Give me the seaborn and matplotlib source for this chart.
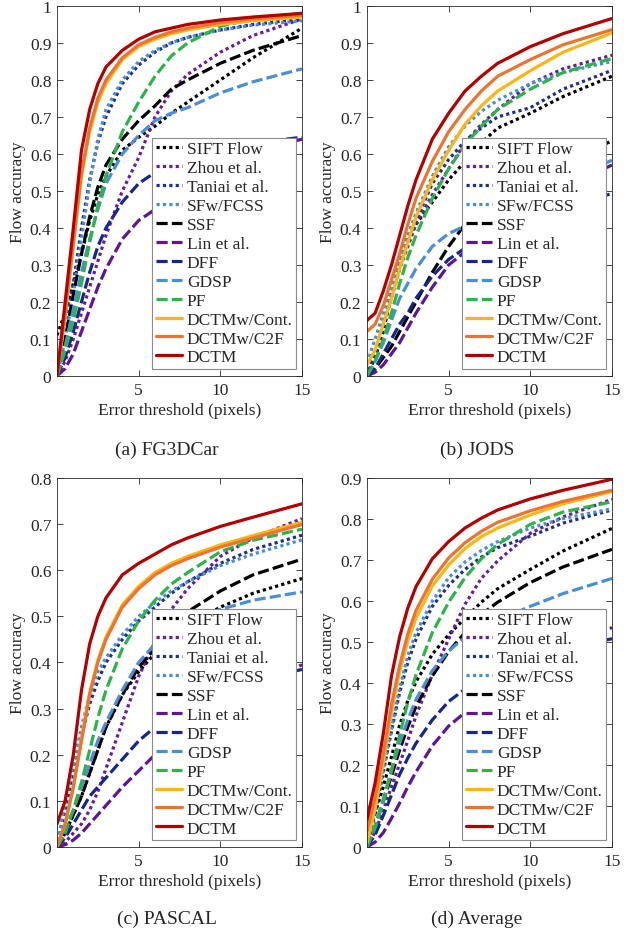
import numpy as np
import matplotlib
matplotlib.use("Agg")
import matplotlib.pyplot as plt
import seaborn as sns

thresholds = [0, 0.5, 1, 1.5, 2, 2.5, 3, 4, 5, 6, 7, 8, 10, 12, 15]

methods = ["SIFT Flow", "Zhou et al.", "Taniai et al.", "SFw/FCSS", "SSF", "Lin et al.",
           "DFF", "GDSP", "PF", "DCTMw/Cont.", "DCTMw/C2F", "DCTM"]

# rows follow the order of `methods`
fg3dcar_acc = [
    [0.11, 0.17, 0.25, 0.33, 0.42, 0.49, 0.54, 0.61, 0.645, 0.675, 0.71, 0.74, 0.80, 0.86, 0.94],
    [0, 0.04, 0.10, 0.17, 0.24, 0.31, 0.38, 0.50, 0.59, 0.70, 0.77, 0.815, 0.875, 0.92, 0.965],
    [0, 0.11, 0.25, 0.40, 0.53, 0.63, 0.70, 0.79, 0.84, 0.875, 0.90, 0.915, 0.935, 0.95, 0.965],
    [0, 0.10, 0.22, 0.37, 0.52, 0.64, 0.72, 0.80, 0.85, 0.88, 0.90, 0.915, 0.935, 0.948, 0.96],
    [0, 0.10, 0.22, 0.33, 0.43, 0.51, 0.57, 0.64, 0.69, 0.73, 0.775, 0.80, 0.845, 0.88, 0.92],
    [0, 0.02, 0.06, 0.12, 0.18, 0.24, 0.29, 0.37, 0.42, 0.45, 0.49, 0.52, 0.57, 0.605, 0.64],
    [0, 0.05, 0.12, 0.20, 0.28, 0.35, 0.40, 0.47, 0.52, 0.55, 0.575, 0.59, 0.615, 0.63, 0.645],
    [0, 0.08, 0.18, 0.28, 0.37, 0.45, 0.52, 0.60, 0.65, 0.69, 0.71, 0.725, 0.765, 0.795, 0.83],
    [0, 0.07, 0.15, 0.25, 0.36, 0.46, 0.54, 0.66, 0.74, 0.81, 0.865, 0.90, 0.945, 0.965, 0.98],
    [0, 0.16, 0.35, 0.54, 0.66, 0.74, 0.79, 0.855, 0.89, 0.91, 0.925, 0.935, 0.95, 0.96, 0.97],
    [0, 0.17, 0.36, 0.55, 0.67, 0.75, 0.80, 0.86, 0.895, 0.915, 0.93, 0.94, 0.955, 0.965, 0.975],
    [0, 0.20, 0.40, 0.61, 0.72, 0.79, 0.835, 0.88, 0.91, 0.93, 0.94, 0.95, 0.962, 0.97, 0.98],
]

jods_acc = [
    [0, 0.05, 0.12, 0.22, 0.31, 0.37, 0.41, 0.47, 0.53, 0.58, 0.63, 0.67, 0.71, 0.755, 0.81],
    [0, 0.06, 0.14, 0.22, 0.29, 0.35, 0.41, 0.49, 0.56, 0.63, 0.68, 0.72, 0.79, 0.83, 0.867],
    [0, 0.06, 0.14, 0.21, 0.29, 0.36, 0.42, 0.52, 0.585, 0.635, 0.67, 0.70, 0.725, 0.775, 0.826],
    [0.035, 0.10, 0.17, 0.24, 0.31, 0.38, 0.44, 0.54, 0.62, 0.675, 0.715, 0.745, 0.79, 0.82, 0.85],
    [0, 0.02, 0.05, 0.08, 0.12, 0.16, 0.20, 0.28, 0.35, 0.41, 0.45, 0.48, 0.535, 0.58, 0.635],
    [0, 0.01, 0.03, 0.06, 0.09, 0.13, 0.17, 0.24, 0.30, 0.335, 0.37, 0.40, 0.455, 0.51, 0.57],
    [0, 0.02, 0.06, 0.10, 0.14, 0.17, 0.21, 0.27, 0.315, 0.345, 0.37, 0.39, 0.425, 0.455, 0.493],
    [0, 0.04, 0.09, 0.15, 0.21, 0.25, 0.29, 0.35, 0.385, 0.405, 0.42, 0.44, 0.48, 0.525, 0.583],
    [0, 0.04, 0.10, 0.17, 0.25, 0.32, 0.38, 0.48, 0.56, 0.625, 0.675, 0.72, 0.775, 0.82, 0.858],
    [0.03, 0.07, 0.14, 0.21, 0.29, 0.36, 0.43, 0.53, 0.61, 0.68, 0.73, 0.77, 0.825, 0.875, 0.927],
    [0.12, 0.14, 0.19, 0.26, 0.33, 0.41, 0.48, 0.58, 0.66, 0.72, 0.77, 0.81, 0.855, 0.895, 0.936],
    [0.15, 0.17, 0.23, 0.30, 0.38, 0.46, 0.53, 0.64, 0.71, 0.77, 0.81, 0.845, 0.89, 0.925, 0.966],
]

pascal_acc = [
    [0, 0.03, 0.07, 0.11, 0.16, 0.21, 0.26, 0.33, 0.38, 0.42, 0.45, 0.48, 0.52, 0.55, 0.582],
    [0, 0.01, 0.03, 0.05, 0.08, 0.12, 0.17, 0.27, 0.37, 0.445, 0.515, 0.56, 0.63, 0.67, 0.712],
    [0, 0.08, 0.16, 0.24, 0.31, 0.36, 0.40, 0.45, 0.49, 0.52, 0.55, 0.575, 0.615, 0.645, 0.676],
    [0, 0.10, 0.18, 0.26, 0.33, 0.38, 0.41, 0.46, 0.50, 0.53, 0.555, 0.575, 0.61, 0.635, 0.666],
    [0, 0.03, 0.07, 0.11, 0.16, 0.21, 0.26, 0.33, 0.39, 0.43, 0.475, 0.51, 0.555, 0.59, 0.624],
    [0, 0.005, 0.015, 0.03, 0.05, 0.07, 0.09, 0.13, 0.165, 0.20, 0.23, 0.26, 0.31, 0.35, 0.395],
    [0, 0.02, 0.05, 0.08, 0.11, 0.13, 0.15, 0.19, 0.23, 0.26, 0.285, 0.305, 0.335, 0.36, 0.385],
    [0, 0.04, 0.08, 0.13, 0.18, 0.23, 0.27, 0.34, 0.40, 0.44, 0.47, 0.49, 0.515, 0.535, 0.553],
    [0, 0.03, 0.08, 0.14, 0.21, 0.28, 0.34, 0.43, 0.49, 0.535, 0.57, 0.595, 0.64, 0.665, 0.689],
    [0, 0.05, 0.13, 0.235, 0.335, 0.405, 0.455, 0.525, 0.565, 0.595, 0.615, 0.63, 0.655, 0.675, 0.704],
    [0, 0.05, 0.13, 0.23, 0.33, 0.40, 0.45, 0.52, 0.56, 0.59, 0.61, 0.625, 0.65, 0.67, 0.699],
    [0.05, 0.10, 0.20, 0.34, 0.44, 0.50, 0.54, 0.59, 0.615, 0.635, 0.655, 0.67, 0.695, 0.715, 0.744],
]

average_acc = [
    [0.037, 0.083, 0.147, 0.22, 0.297, 0.357, 0.403, 0.47, 0.518, 0.558, 0.597, 0.63, 0.677, 0.722, 0.777],
    [0, 0.037, 0.09, 0.147, 0.203, 0.26, 0.32, 0.42, 0.507, 0.592, 0.655, 0.698, 0.765, 0.805, 0.848],
    [0, 0.083, 0.183, 0.283, 0.377, 0.45, 0.507, 0.587, 0.638, 0.677, 0.707, 0.73, 0.758, 0.79, 0.822],
    [0.012, 0.10, 0.19, 0.29, 0.387, 0.467, 0.523, 0.60, 0.657, 0.695, 0.723, 0.745, 0.778, 0.801, 0.825],
    [0, 0.05, 0.113, 0.173, 0.237, 0.293, 0.343, 0.417, 0.477, 0.523, 0.567, 0.597, 0.645, 0.683, 0.726],
    [0, 0.012, 0.035, 0.07, 0.107, 0.147, 0.183, 0.247, 0.295, 0.328, 0.363, 0.393, 0.445, 0.488, 0.535],
    [0, 0.03, 0.077, 0.127, 0.177, 0.217, 0.253, 0.31, 0.355, 0.385, 0.41, 0.428, 0.458, 0.482, 0.508],
    [0, 0.053, 0.117, 0.187, 0.253, 0.31, 0.36, 0.43, 0.478, 0.512, 0.533, 0.552, 0.587, 0.618, 0.655],
    [0, 0.047, 0.11, 0.187, 0.273, 0.353, 0.42, 0.523, 0.597, 0.657, 0.703, 0.738, 0.787, 0.817, 0.842],
    [0.01, 0.093, 0.207, 0.328, 0.428, 0.502, 0.558, 0.637, 0.688, 0.728, 0.757, 0.778, 0.81, 0.837, 0.867],
    [0.04, 0.12, 0.227, 0.347, 0.443, 0.52, 0.577, 0.653, 0.705, 0.742, 0.77, 0.792, 0.82, 0.843, 0.87],
    [0.067, 0.157, 0.277, 0.417, 0.513, 0.583, 0.635, 0.703, 0.745, 0.778, 0.802, 0.822, 0.849, 0.87, 0.897],
]

# line styles per method
dot = (0, (1, 1))
dash = (0, (3.5, 1.3))
colors = ["black", "#6a1b9a", "#1f2f8c", "#4a8fd6", "black", "#5e1596",
          "#15288a", "#4a8fd6", "#2db34a", "#fdb515", "#ec7431", "#b30000"]
styles = [dot, dot, dot, dot, dash, dash, dash, dash, dash, "-", "-", "-"]

sns.set_style("ticks")
plt.rcParams["font.family"] = ["Liberation Serif", "DejaVu Serif"]
edge = "#262626"

fig = plt.figure(figsize=(6.31, 9.37), dpi=100)

panels = [
    (fg3dcar_acc, "(a) FG3DCar", 1.0, [0.0903, 0.5977, 0.3883, 0.3949], (0.265, 0.510)),
    (jods_acc, "(b) JODS", 1.0, [0.5816, 0.5977, 0.3883, 0.3949], (0.756, 0.510)),
    (pascal_acc, "(c) PASCAL", 0.8, [0.0903, 0.0950, 0.3883, 0.3938], (0.265, 0.010)),
    (average_acc, "(d) Average", 0.9, [0.5816, 0.0950, 0.3883, 0.3938], (0.756, 0.010)),
]

for acc, caption, ymax, rect, cap_xy in panels:
    ax = fig.add_axes(rect)
    for i, name in enumerate(methods):
        sns.lineplot(x=thresholds, y=acc[i], ax=ax, color=colors[i], linestyle=styles[i],
                     linewidth=2.3, label=name)
    ax.set_xlim(0, 15)
    ax.set_ylim(0, ymax)
    ax.set_xticks([5, 10, 15])
    yt = np.round(np.arange(0, ymax + 0.001, 0.1), 1)
    ax.set_yticks(yt)
    ax.set_yticklabels([f"{v:g}" for v in yt])
    ax.tick_params(direction="in", top=True, right=True, length=4, width=0.6,
                   labelsize=12.5, colors=edge, labelcolor=edge, pad=4)
    for sp in ax.spines.values():
        sp.set_visible(True)
        sp.set_linewidth(0.6)
        sp.set_color(edge)
    ax.set_xlabel("Error threshold (pixels)", fontsize=12.5, color=edge, labelpad=3)
    ax.set_ylabel("Flow accuracy", fontsize=12.5, color=edge, labelpad=3)
    leg = ax.legend(loc="lower right", bbox_to_anchor=(0.976, 0.019), fontsize=12.5,
                    frameon=True, fancybox=False, edgecolor="#8c8c8c", framealpha=1,
                    borderpad=0.2, labelspacing=0.16, handlelength=1.5,
                    handletextpad=0.3, borderaxespad=0)
    leg.get_frame().set_linewidth(0.8)
    for t in leg.get_texts():
        t.set_color(edge)
    fig.text(cap_xy[0], cap_xy[1], caption, ha="center", va="bottom", fontsize=14, color=edge)

fig.savefig("out.png", dpi=100)
